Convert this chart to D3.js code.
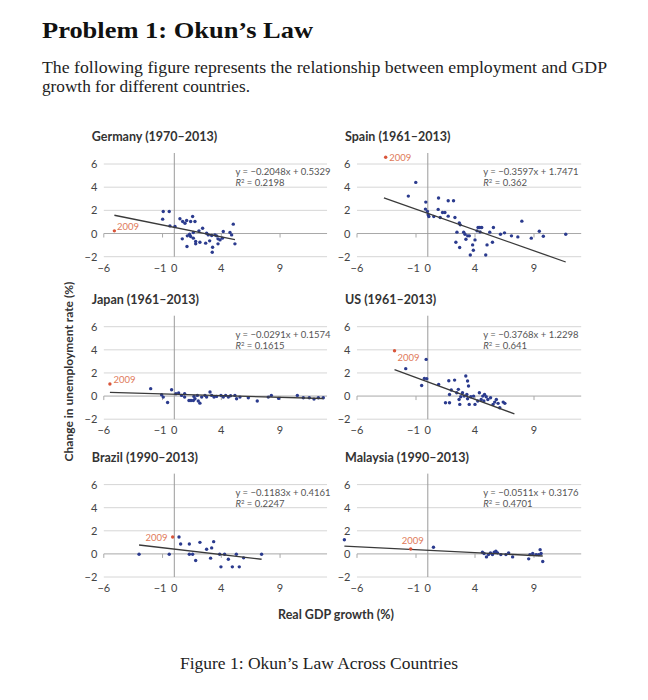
<!DOCTYPE html>
<html><head><meta charset="utf-8">
<script src="https://cdn.jsdelivr.net/npm/d3@7/dist/d3.min.js"></script>
<style>
html,body{margin:0;padding:0;background:#fff;}
svg{display:block;}
</style></head>
<body>
<svg id="chart" width="648" height="700"></svg>
<script>
// ---------- data ----------
const countries = ["Germany (1970–2013)", "Spain (1961–2013)", "Japan (1961–2013)", "US (1961–2013)", "Brazil (1990–2013)", "Malaysia (1990–2013)"];

const germanyX = [-0.94,-0.43,-0.99,-0.37,0.06,0.48,0.71,0.91,1.05,1.39,1.56,1.76,0.68,1.08,1.30,1.39,1.62,1.82,1.82,2.18,2.41,2.67,2.89,3.01,3.18,3.26,3.23,3.46,3.60,3.72,3.89,4.09,4.17,4.74,4.88,5.02,5.16,3.72,1.11,1.62,2.75,2.10];
const germanyY = [1.90,1.90,1.24,0.66,0.60,1.27,1.04,0.89,1.12,1.04,1.47,1.04,-0.46,-1.12,-0.06,-0.26,-0.40,-0.69,-0.89,-0.75,0.46,-0.83,-0.12,-0.63,-0.17,-1.18,-1.61,-0.12,-0.20,-0.89,-0.55,-0.40,0.17,0.09,-0.12,0.81,-0.89,-0.46,-0.20,0.09,0.03,0.23];

const spainX = [-1.65,-1.02,-0.17,-0.20,-0.03,0.03,0.09,0.51,0.91,0.88,1.05,1.25,1.45,1.73,2.18,1.73,2.30,2.67,2.75,2.47,2.38,2.70,3.04,3.15,3.23,3.38,3.52,3.60,3.80,3.86,4.00,4.17,4.26,4.40,4.57,4.43,4.91,5.02,5.25,5.48,5.56,6.16,6.50,7.09,7.63,7.97,8.77,9.45,9.79,11.69];
const spainY = [3.23,4.41,2.71,2.11,1.90,1.62,1.47,1.47,3.06,2.08,1.38,1.82,1.82,2.83,2.83,1.50,1.38,0.92,0.75,0.12,-0.75,-1.21,0.12,-0.06,-0.49,-0.20,-0.20,-1.85,-0.98,-1.44,-0.55,0.23,0.52,0.52,0.52,0.14,-1.85,-0.98,0.12,-0.75,0.52,-0.06,0.06,-0.20,-0.29,1.07,-0.40,0.20,-0.23,-0.06];

const japanX = [-2.01,-1.08,-0.94,-0.57,-0.23,0.14,0.37,0.62,0.88,0.88,1.25,1.42,1.62,1.67,1.76,1.96,2.04,2.18,2.33,2.61,2.75,3.04,3.18,3.38,3.60,3.97,4.17,4.37,4.60,4.79,5.16,5.30,5.59,6.30,7.06,8.00,8.26,8.88,10.47,10.98,11.49,11.89,12.26,12.68];
const japanY = [0.64,0.12,-0.09,-0.55,0.55,0.20,0.26,0.06,0.20,-0.09,-0.38,-0.38,-0.38,-0.03,-0.23,0.06,-0.43,-0.61,-0.09,0.06,-0.09,0.35,0.06,-0.09,-0.03,0.06,-0.09,0.06,-0.09,0.03,0.06,-0.23,-0.09,-0.14,-0.43,-0.09,0.06,-0.20,0.06,-0.14,-0.14,-0.26,-0.14,-0.14];

const usX = [-1.87,-0.52,-0.14,-0.29,-0.09,0.92,1.50,1.84,1.78,1.84,2.27,1.99,2.45,2.59,2.65,2.71,2.79,2.94,3.08,3.22,3.37,3.45,3.31,3.37,3.51,3.65,3.88,4.00,4.23,4.37,4.52,4.66,4.81,4.95,4.75,5.09,5.32,5.53,5.67,5.81,5.96,6.10,6.39,6.53];
const usY = [2.37,0.92,3.17,1.53,1.50,1.01,-0.58,-0.58,1.33,0.14,1.38,0.52,0.29,0.58,-0.29,-0.72,-0.06,0.29,0.00,1.73,1.30,0.87,0.14,-0.23,-0.72,-0.06,0.00,-0.72,-0.43,0.29,-0.29,0.00,0.14,-0.06,-0.43,-0.29,-0.14,-0.72,-0.52,-0.29,-0.63,-1.01,-0.52,-0.63];

const brazilX = [-3.00,-0.43,0.40,0.54,1.28,1.28,1.56,1.82,2.18,2.75,3.09,3.18,3.35,3.86,3.97,4.28,4.60,4.94,5.28,5.53,5.90,7.43];
const brazilY = [-0.03,-0.03,1.46,0.86,0.86,-0.03,-0.03,-0.57,1.00,0.40,-0.37,0.52,1.06,-0.03,-1.12,-0.03,-0.46,-1.12,-0.03,-1.12,-0.34,-0.03];

const malaysiaX = [-7.07,0.48,4.63,4.77,4.97,5.14,5.31,5.48,5.63,5.77,5.91,6.19,6.62,6.85,7.19,8.55,8.66,8.89,9.18,9.40,9.52,9.74,9.60];
const malaysiaY = [1.23,0.57,0.14,0.03,-0.26,-0.06,0.09,-0.06,0.14,0.23,0.09,-0.06,-0.06,0.09,-0.26,-0.43,-0.06,0.03,-0.06,-0.06,0.37,-0.66,0.03];

const point2009X = [-5.10, -3.57, -5.48, -2.82, -0.14, -1.45];
const point2009Y = [0.23, 6.58, 1.04, 3.92, 1.46, 0.43];

const slopes = [-0.2048, -0.3597, -0.0291, -0.3768, -0.1183, -0.0511];
const intercepts = [0.5329, 1.7471, 0.1574, 1.2298, 0.4161, 0.3176];
const equationLabels = ["y = −0.2048x + 0.5329", "y = −0.3597x + 1.7471", "y = −0.0291x + 0.1574", "y = −0.3768x + 1.2298", "y = −0.1183x + 0.4161", "y = −0.0511x + 0.3176"];
const r2Labels = ["0.2198", "0.362", "0.1615", "0.641", "0.2247", "0.4701"];
const fitFromX = [-5.10, -3.72, -5.48, -2.82, -3.00, -7.07];
const fitToX = [5.16, 11.69, 12.68, 7.34, 7.43, 9.74];

const yTicks = [-2, 0, 2, 4, 6];
const xTickLabels = [-6, -1, 0, 4, 9];
const xTickMarks = [-6, -1, 4, 9];

const seriesX = [germanyX, spainX, japanX, usX, brazilX, malaysiaX];
const seriesY = [germanyY, spainY, japanY, usY, brazilY, malaysiaY];

// ---------- layout ----------
const colRanges = [[103.8, 327.05], [357, 581.2]];
const rowRanges = [[256.7, 164], [419.2, 326.7], [577, 484.6]];
const eqXData = [5.2, 4.7];
const label2009 = [[2.5,-1,"start"],[3.5,3.5,"start"],[3.5,-1,"start"],[3,10,"start"],[-5,4,"end"],[2,-5,"middle"]];

const svg = d3.select("#chart");
const SANS = "Lato, 'Open Sans', sans-serif";
const SERIF = "'Liberation Serif', 'DejaVu Serif', serif";
const fmt = v => (v < 0 ? "−" + Math.abs(v) : String(v));

// header
svg.append("text").attr("x", 42).attr("y", 38).attr("font-family", SERIF).attr("font-weight", "bold")
  .attr("font-size", 24).attr("fill", "#111").attr("textLength", 271).attr("lengthAdjust", "spacingAndGlyphs")
  .text("Problem 1: Okun’s Law");
svg.append("text").attr("x", 42).attr("y", 73).attr("font-family", SERIF).attr("font-size", 16)
  .attr("fill", "#222").attr("textLength", 565).attr("lengthAdjust", "spacingAndGlyphs")
  .text("The following figure represents the relationship between employment and GDP");
svg.append("text").attr("x", 42).attr("y", 92).attr("font-family", SERIF).attr("font-size", 16)
  .attr("fill", "#222").attr("textLength", 208).attr("lengthAdjust", "spacingAndGlyphs")
  .text("growth for different countries.");
svg.append("text").attr("x", 319).attr("y", 669).attr("text-anchor", "middle").attr("font-family", SERIF)
  .attr("font-size", 16).attr("fill", "#222").attr("textLength", 278).attr("lengthAdjust", "spacingAndGlyphs")
  .text("Figure 1: Okun’s Law Across Countries");

// axis titles
svg.append("text").attr("transform", "translate(73,371.5) rotate(-90)").attr("text-anchor", "middle")
  .attr("font-family", SANS).attr("font-weight", "bold").attr("font-size", 12).attr("fill", "#333")
  .text("Change in unemployment rate (%)");
svg.append("text").attr("x", 336).attr("y", 619).attr("text-anchor", "middle")
  .attr("font-family", SANS).attr("font-weight", "bold").attr("font-size", 12.5).attr("fill", "#333")
  .text("Real GDP growth (%)");

countries.forEach((name, i) => {
  const col = i % 2, row = Math.floor(i / 2);
  const x = d3.scaleLinear().domain([-6, 13]).range(colRanges[col]);
  const y = d3.scaleLinear().domain([-2, 6]).range(rowRanges[row]);
  const g = svg.append("g");

  // gridlines
  g.selectAll("line.grid").data(yTicks.filter(t => t !== 0)).join("line")
    .attr("x1", x(-6)).attr("x2", x(13)).attr("y1", d => y(d)).attr("y2", d => y(d))
    .attr("stroke", "#d6d6d6").attr("stroke-width", 1);
  // zero axis
  g.append("line").attr("x1", x(-6)).attr("x2", x(13)).attr("y1", y(0)).attr("y2", y(0))
    .attr("stroke", "#a8a8a8").attr("stroke-width", 1);
  g.selectAll("line.tick").data(xTickMarks).join("line")
    .attr("x1", d => x(d)).attr("x2", d => x(d)).attr("y1", y(0)).attr("y2", y(0) + 4)
    .attr("stroke", "#a8a8a8").attr("stroke-width", 1);
  // vertical axis at x = 0
  g.append("line").attr("x1", x(0)).attr("x2", x(0)).attr("y1", y(6.95)).attr("y2", y(-2))
    .attr("stroke", "#9a9a9a").attr("stroke-width", 1);

  // tick labels
  g.selectAll("text.yt").data(yTicks).join("text")
    .attr("x", x(-6) - 6.5).attr("y", d => y(d) + 4).attr("text-anchor", "end")
    .attr("font-family", SANS).attr("font-size", 11).attr("fill", "#444").text(fmt);
  g.selectAll("text.xt").data(xTickLabels).join("text")
    .attr("x", d => x(d) + (d === -1 ? -2.5 : 0)).attr("y", y(-2) + 15).attr("text-anchor", "middle")
    .attr("font-family", SANS).attr("font-size", 11).attr("fill", "#444").text(fmt);

  // title
  g.append("text").attr("x", x(-6) - 12).attr("y", y(6) - 23)
    .attr("font-family", SANS).attr("font-weight", "bold").attr("font-size", 12.5).attr("fill", "#333")
    .text(name);

  // equation
  g.append("text").attr("x", x(eqXData[col])).attr("y", y(6) + 11)
    .attr("font-family", SANS).attr("font-size", 9.5).attr("fill", "#555").text(equationLabels[i]);
  const r2 = g.append("text").attr("x", x(eqXData[col])).attr("y", y(6) + 22)
    .attr("font-family", SANS).attr("font-size", 9.5).attr("fill", "#555");
  r2.append("tspan").attr("font-style", "italic").text("R");
  r2.append("tspan").attr("font-size", 6).attr("dy", -3).text("2");
  r2.append("tspan").attr("dy", 3).text(" = " + r2Labels[i]);

  // points
  const pts = seriesX[i].map((v, k) => [v, seriesY[i][k]]);
  g.selectAll("circle.pt").data(pts).join("circle")
    .attr("cx", d => x(d[0])).attr("cy", d => y(d[1])).attr("r", 1.7).attr("fill", "#2b3b8e");

  // regression line
  g.append("line")
    .attr("x1", x(fitFromX[i])).attr("y1", y(slopes[i] * fitFromX[i] + intercepts[i]))
    .attr("x2", x(fitToX[i])).attr("y2", y(slopes[i] * fitToX[i] + intercepts[i]))
    .attr("stroke", "#3a3a3a").attr("stroke-width", 1.3);

  // 2009 point
  const px = x(point2009X[i]), py = y(point2009Y[i]);
  g.append("circle").attr("cx", px).attr("cy", py).attr("r", 1.7).attr("fill", "#d9553a");
  const L = label2009[i];
  g.append("text").attr("x", px + L[0]).attr("y", py + L[1]).attr("text-anchor", L[2])
    .attr("font-family", SANS).attr("font-size", 9.5).attr("fill", "#e07a5a").text("2009");
});
</script>
</body></html>
